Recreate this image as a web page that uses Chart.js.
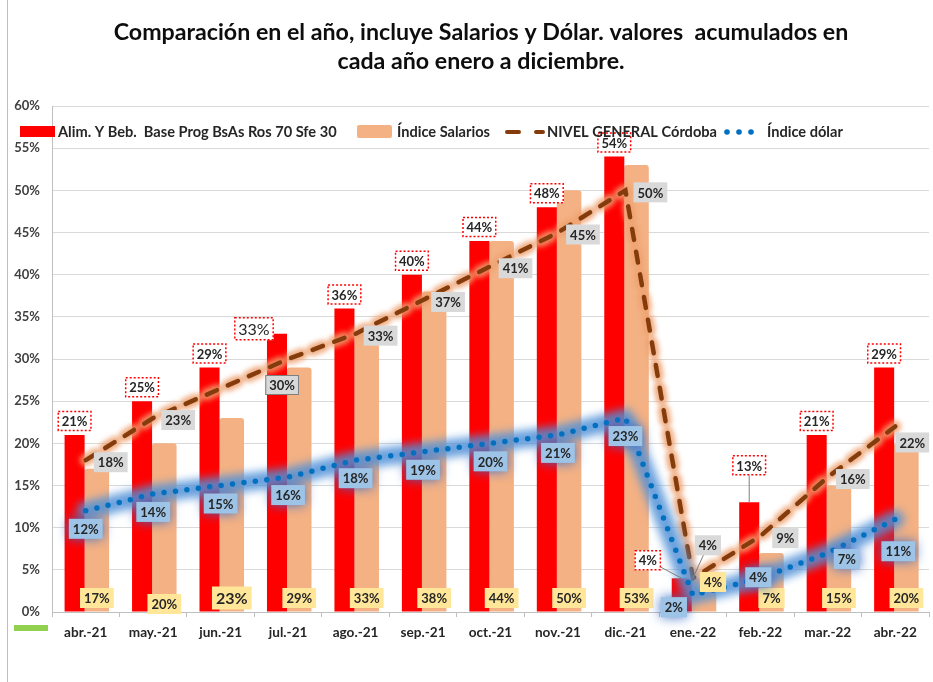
<!DOCTYPE html>
<html><head><meta charset="utf-8">
<script src="https://cdn.jsdelivr.net/npm/chart.js@4"></script>
<style>html,body{margin:0;padding:0;background:#fff}#wrap{width:933px;height:682px}</style>
</head><body><div id="wrap"><canvas id="c" width="933" height="682"></canvas></div>
<script>
const categories = ['abr.-21','may.-21','jun.-21','jul.-21','ago.-21','sep.-21','oct.-21','nov.-21','dic.-21','ene.-22','feb.-22','mar.-22','abr.-22'];
const alimValues = [21,25,29,33,36,40,44,48,54,4,13,21,29];
const salarioValues = [17,20,23,29,33,38,44,50,53,4,7,15,20];
const nivelValues = [18,23,26.5,30,33,37,41,45,50,4,9,16,22];
const dolarValues = [12,14,15,16,18,19,20,21,23,2,4,7,11];
const yTickLabels = ['0%','5%','10%','15%','20%','25%','30%','35%','40%','45%','50%','55%','60%'];
const seriesNames = ['Alim. Y Beb.  Base Prog BsAs Ros 70 Sfe 30','Índice Salarios','NIVEL GENERAL Córdoba','Índice dólar'];
const titleLines = ['Comparación en el año, incluye Salarios y Dólar. valores  acumulados en','cada año enero a diciembre.'];

// label placement tweaks (styling only)
const tweaks = {
  alim:   {3:{dx:-23,dy:-5,size:16,bold:false},9:{dx:-34,dy:-18,leader:true},10:{dx:0,dy:-37,leader:true}},
  salario:{1:{dy:-8},2:{size:16},9:{dx:9,dy:-30}},
  nivel:  {2:{hide:true},3:{dx:-6,dy:26,border:'#7F7F7F'},9:{dx:15,dy:-33,leader:true},12:{dx:17,dy:16}},
  dolar:  {9:{dx:-19,dy:12},10:{dx:-2,dy:-1},11:{dx:19,dy:6},12:{dx:3,dy:32}}
};
const FONT = 'Lato';

function box(ctx, text, cx, cy, o){
  const size = o.size || 13;
  ctx.save();
  ctx.font = (o.bold===false?'':'bold ') + size + 'px ' + FONT;
  const w = ctx.measureText(text).width + 8;
  const h = size + 7;
  const x = cx - w/2, y = cy - h/2;
  if (o.leader){
    ctx.strokeStyle = '#7F7F7F'; ctx.lineWidth = 1;
    ctx.beginPath(); ctx.moveTo(cx, cy); ctx.lineTo(o.px, o.py); ctx.stroke();
  }
  if (o.glow){ ctx.shadowColor = o.glow; ctx.shadowBlur = 12; }
  ctx.fillStyle = o.fill;
  ctx.fillRect(x, y, w, h);
  ctx.shadowBlur = 0; ctx.shadowColor = 'transparent';
  if (o.border){
    ctx.strokeStyle = o.border; ctx.lineWidth = o.borderWidth || 1;
    if (o.dash) ctx.setLineDash(o.dash);
    ctx.strokeRect(x+0.5, y+0.5, w-1, h-1);
    ctx.setLineDash([]);
  }
  ctx.fillStyle = '#262626';
  ctx.textAlign = 'center'; ctx.textBaseline = 'middle';
  ctx.fillText(text, cx, cy + 1);
  ctx.restore();
}

const decoPlugin = {
  id: 'deco',
  beforeDraw(chart){
    const ctx = chart.ctx;
    ctx.save(); ctx.fillStyle = '#fff'; ctx.fillRect(0,0,chart.width,chart.height); ctx.restore();
  },
  beforeDatasetDraw(chart, args){
    const ctx = chart.ctx;
    const ds = chart.data.datasets[args.index];
    if (ds.type !== 'line') return;
    const pts = args.meta.data;
    ctx.save();
    ctx.beginPath();
    pts.forEach((p,i)=> i? ctx.lineTo(p.x,p.y) : ctx.moveTo(p.x,p.y));
    ctx.lineJoin = 'round'; ctx.lineCap = 'round';
    if (ds.glowKind === 'blue'){
      ctx.filter = 'blur(4px)';
      ctx.strokeStyle = 'rgba(80,145,215,0.85)';
      ctx.lineWidth = 18;
      ctx.stroke();
    } else {
      ctx.filter = 'blur(2.5px)';
      ctx.setLineDash(ds.borderDash);
      ctx.strokeStyle = 'rgba(237,160,110,0.85)';
      ctx.lineWidth = 12;
      ctx.stroke();
    }
    ctx.restore();
  },
  afterDatasetsDraw(chart){
    const ctx = chart.ctx;
    const area = chart.chartArea;
    const byKey = {};
    chart.data.datasets.forEach((d,i)=> byKey[d.key] = chart.getDatasetMeta(i).data);
    byKey.alim.forEach((el,i)=>{
      const t = tweaks.alim[i] || {};
      const cx = el.x + (t.dx||0), cy = el.y + (t.dy!==undefined?t.dy:-14);
      box(ctx, alimValues[i]+'%', cx, cy, {fill:'#fff', border:'#FF0000', borderWidth:1.5, dash:[2,2], size:t.size, bold:t.bold, leader:t.leader, px:el.x, py:el.y});
    });
    byKey.salario.forEach((el,i)=>{
      const t = tweaks.salario[i] || {};
      box(ctx, salarioValues[i]+'%', el.x + (t.dx||0), area.bottom + (t.dy!==undefined?t.dy:-14), {fill:'#FFE699', size:t.size});
    });
    byKey.nivel.forEach((el,i)=>{
      const t = tweaks.nivel[i] || {};
      if (t.hide) return;
      box(ctx, nivelValues[i]+'%', el.x + (t.dx!==undefined?t.dx:25), el.y + (t.dy!==undefined?t.dy:2), {fill:'#D9D9D9', border:t.border, leader:t.leader, px:el.x, py:el.y});
    });
    byKey.dolar.forEach((el,i)=>{
      const t = tweaks.dolar[i] || {};
      box(ctx, dolarValues[i]+'%', el.x + (t.dx||0), el.y + (t.dy!==undefined?t.dy:18), {fill:'#9DC3E6', glow:'rgba(60,110,200,0.95)'});
    });
  },
  afterDraw(chart){
    const ctx = chart.ctx;
    ctx.save();
    ctx.strokeStyle = '#BFBFBF'; ctx.lineWidth = 1;
    ctx.beginPath(); ctx.moveTo(7.5,0); ctx.lineTo(7.5,682); ctx.stroke();
    ctx.fillStyle = '#92D050'; ctx.fillRect(14,625,34,6);
    ctx.fillStyle = '#0D0D0D';
    ctx.font = 'bold 23.2px ' + FONT;
    ctx.textAlign = 'center'; ctx.textBaseline = 'middle';
    ctx.fillText(titleLines[0], 481, 33);
    ctx.fillText(titleLines[1], 481, 62);
    const ly = 132;
    ctx.font = 'bold 14.6px ' + FONT;
    ctx.textAlign = 'left';
    ctx.fillStyle = '#FF0000'; ctx.fillRect(20,126,35,11);
    ctx.fillStyle = '#262626'; ctx.fillText(seriesNames[0], 58, ly);
    ctx.fillStyle = '#F4B183'; ctx.beginPath(); ctx.roundRect(357,125,35,13,2); ctx.fill();
    ctx.fillStyle = '#262626'; ctx.fillText(seriesNames[1], 397, ly);
    ctx.strokeStyle = '#843C0C'; ctx.lineWidth = 4; ctx.lineCap = 'round';
    ctx.beginPath(); ctx.moveTo(507,ly); ctx.lineTo(519,ly); ctx.moveTo(536,ly); ctx.lineTo(543,ly); ctx.stroke();
    ctx.fillStyle = '#262626'; ctx.fillText(seriesNames[2], 547, ly);
    ctx.fillStyle = '#0070C0';
    [727,739,751].forEach(x=>{ctx.beginPath(); ctx.arc(x,ly,2.8,0,Math.PI*2); ctx.fill();});
    ctx.fillStyle = '#262626'; ctx.fillText(seriesNames[3], 767, ly);
    ctx.restore();
  }
};

new Chart(document.getElementById('c'), {
  type: 'bar',
  data: {
    labels: categories,
    datasets: [
      {key:'dolar', type:'line', label:seriesNames[3], data:dolarValues, borderColor:'#0070C0', borderWidth:5.5, borderDash:[0,11.5], borderCapStyle:'round', pointRadius:0, tension:0, fill:false, order:0, glowKind:'blue'},
      {key:'nivel', type:'line', label:seriesNames[2], data:nivelValues, borderColor:'#843C0C', borderWidth:4.5, borderDash:[11,12], borderCapStyle:'round', pointRadius:0, tension:0, fill:false, order:0, glowKind:'brown'},
      {key:'alim', type:'bar', label:seriesNames[0], data:alimValues, backgroundColor:'#FF0000', barPercentage:0.9, categoryPercentage:0.66, order:1},
      {key:'salario', type:'bar', label:seriesNames[1], data:salarioValues, backgroundColor:'#F4B183', barPercentage:1.1, categoryPercentage:0.66, borderRadius:{topLeft:3,topRight:3}, borderSkipped:'bottom', order:2}
    ]
  },
  options: {
    responsive:false, animation:false, devicePixelRatio:1,
    layout:{padding:{top:106,left:0,right:4,bottom:40}},
    plugins:{legend:{display:false}, tooltip:{enabled:false}, title:{display:false}},
    scales:{
      x:{
        grid:{drawOnChartArea:false, drawTicks:true, tickLength:5, color:'#BFBFBF', offset:true},
        border:{color:'#BFBFBF'},
        ticks:{font:{family:FONT, weight:'bold', size:13.6}, color:'#262626', padding:7, maxRotation:0, autoSkip:false},
        afterFit(s){ s.height = 30; }
      },
      y:{
        min:0, max:60,
        grid:{color:'#D9D9D9', drawTicks:false},
        border:{color:'#BFBFBF'},
        ticks:{stepSize:5, callback:(v,i)=>yTickLabels[i], font:{family:FONT, weight:'bold', size:13}, color:'#404040', padding:12},
        afterFit(s){ s.width = 52; }
      }
    }
  },
  plugins:[decoPlugin]
});
</script>
</body></html>
